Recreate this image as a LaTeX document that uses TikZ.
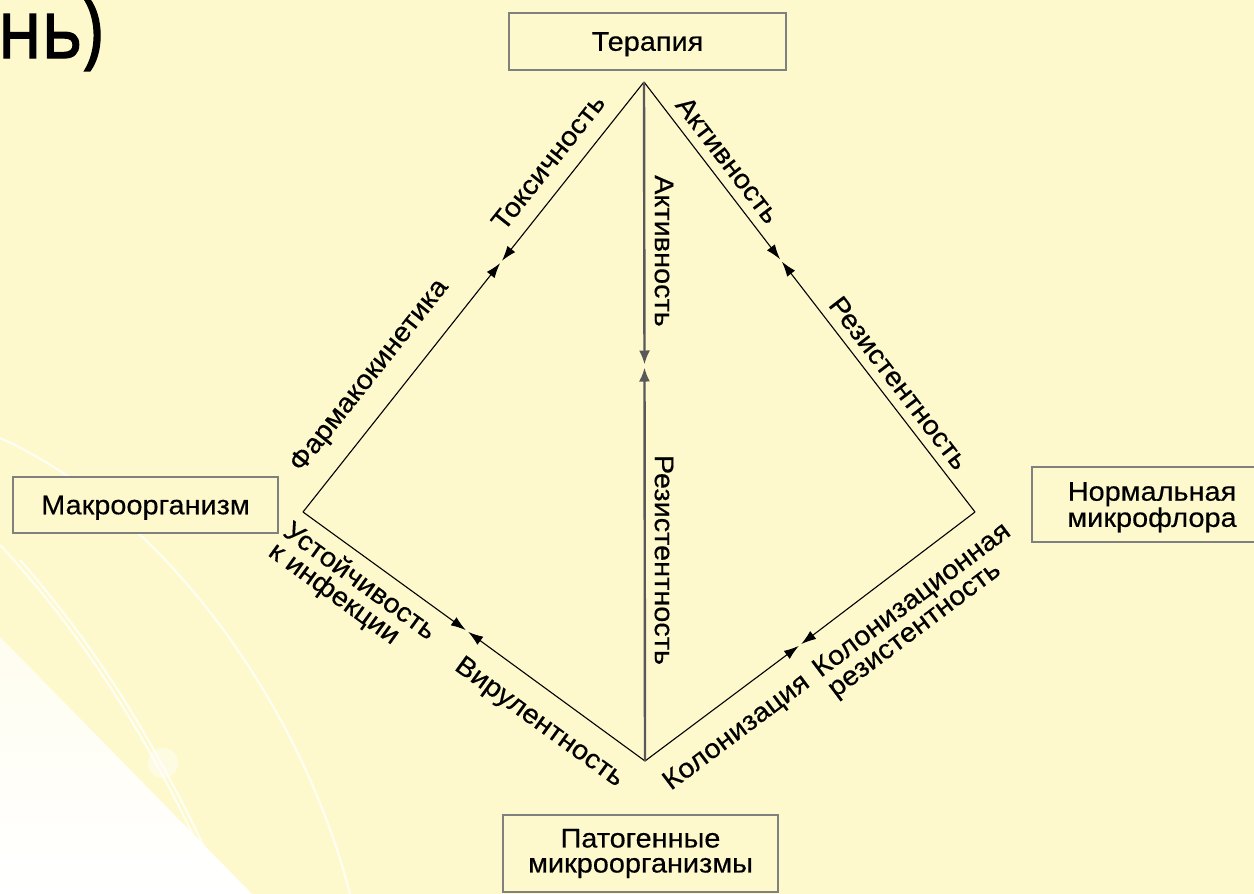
\documentclass[tikz,border=0pt]{standalone}
\usepackage{fontspec}
\setmainfont{Liberation Sans}[FakeStretch=1.07,FakeBold=0.4]
\newfontfamily\hdrfont{Open Sans}[FakeStretch=0.84,FakeBold=1.6]
\usetikzlibrary{arrows.meta}
\definecolor{bg}{RGB}{254,249,204}
\definecolor{boxline}{RGB}{128,128,128}
\newcommand\lblfont{\fontsize{27}{25}\selectfont}
\begin{document}
\begin{tikzpicture}[x=1pt,y=-1pt,
  box/.style={draw=boxline, line width=1.8pt, fill=bg, align=center, font=\lblfont, inner sep=0pt},
  lab/.style={font=\lblfont, inner sep=0pt},
  edgearrow/.style={line width=1.1pt, -{Latex[length=15pt,width=10pt]}, shorten >=1.5pt},
  vertarrow/.style={line width=2.4pt, draw=black!65, -{Latex[length=14pt,width=11pt]}, shorten >=1.5pt},
  deco/.style={white, line width=2.2pt, opacity=0.75}]
\useasboundingbox (0,0) rectangle (1254,894);
\clip (0,0) rectangle (1254,894);
\fill[bg] (0,0) rectangle (1254,894);
% background decoration
\shade[top color=bg!30!white, bottom color=white] (0,637) -- (252,894) -- (0,894) -- cycle;
\draw[deco] (0,438) .. controls (160,510) and (300,700) .. (350,894);
\draw[deco] (0,545) .. controls (70,620) and (140,720) .. (205,860);
\draw[deco] (20,560) .. controls (90,640) and (150,730) .. (215,870);
\fill[white, opacity=0.45] (163,763) circle (15);
% header fragment
\node[anchor=base east, inner sep=0pt, font=\hdrfont\fontsize{82}{82}\selectfont] (hdr) at (103,58) {нь)};
% boxes
\node[box, text depth=0pt, minimum width=277pt, minimum height=57pt] (ter) at (647.5,41.5) {Терапия};
\node[box, text depth=0pt, minimum width=265pt, minimum height=56pt] (makro) at (145.5,505) {Макроорганизм};
\node[box, text depth=0pt, minimum width=240pt, minimum height=75pt] (norm) at (1152,504.5) {Нормальная\\микрофлора};
\node[box, minimum width=275pt, minimum height=77pt] (pat) at (640.5,853.5) {Патогенные\\микроорганизмы};
% vertices
\coordinate (T) at (644,82);
\coordinate (L) at (303,512);
\coordinate (R) at (975,512);
\coordinate (B) at (645,761);
% meeting points
\coordinate (mTL) at (501,262);
\coordinate (mTB) at (644.5,366);
\coordinate (mTR) at (781,260.5);
\coordinate (mLB) at (467,631);
\coordinate (mRB) at (800,645);
% connectors
\draw[edgearrow] (T) -- (mTL);
\draw[edgearrow] (L) -- (mTL);
\draw[edgearrow] (T) -- (mTR);
\draw[edgearrow] (R) -- (mTR);
\draw[edgearrow] (L) -- (mLB);
\draw[edgearrow] (B) -- (mLB);
\draw[edgearrow] (R) -- (mRB);
\draw[edgearrow] (B) -- (mRB);
\draw[vertarrow] (T) -- (mTB);
\draw[vertarrow] (B) -- (mTB);
% labels
\node[lab, rotate=51.6] (tox) at (548,162) {Токсичность};
\node[lab, rotate=51.6] (farm) at (370,376) {Фармакокинетика};
\node[lab, rotate=-90] (akt1) at (664,251) {Активность};
\node[lab, rotate=-90] (rez1) at (664,560) {Резистентность};
\node[lab, rotate=-52.4] (akt2) at (728,160) {Активность};
\node[lab, rotate=-52.4] (rez2) at (899,383) {Резистентность};
\node[lab, rotate=-35.9, align=left] (ust) at (352,592) {Устойчивость\\к инфекции};
\node[lab, rotate=-35.9] (vir) at (539,723) {Вирулентность};
\node[lab, rotate=36.9] (kol) at (737,733) {Колонизация};
\node[lab, rotate=36.9, align=left] (kolrez) at (920,611) {Колонизационная\\резистентность};
\end{tikzpicture}
\end{document}
